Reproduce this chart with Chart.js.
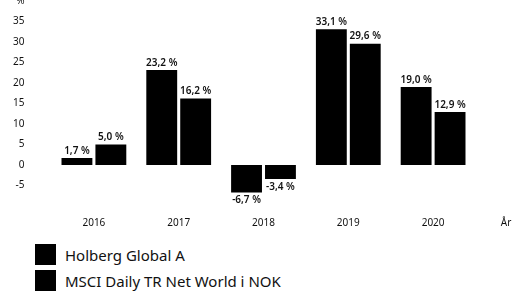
<!DOCTYPE html>
<html>
<head>
<meta charset="utf-8">
<script src="https://cdn.jsdelivr.net/npm/chart.js@4/dist/chart.umd.min.js"></script>
<style>
  body { margin: 0; background: #fff; width: 517px; height: 295px; overflow: hidden; position: relative; font-family: "Noto Sans", sans-serif; }
  #wrap { position: absolute; left: 0; top: -32px; width: 517px; height: 272px; }
  .legend { position: absolute; left: 35px; top: 244px; }
  .item { display: flex; align-items: center; height: 21px; margin-bottom: 5px; font-size: 15px; color: #111; }
  .box { width: 21px; height: 21px; background: #000; margin-right: 9px; }
</style>
</head>
<body>
<div id="wrap"><canvas id="myChart1" width="517" height="272"></canvas></div>
<div class="legend">
  <div class="item"><span class="box"></span>Holberg Global A</div>
  <div class="item"><span class="box"></span>MSCI Daily TR Net World i NOK</div>
</div>
<script>
const years = ["2016", "2017", "2018", "2019", "2020"];
const holberg = [1.7, 23.2, -6.7, 33.1, 19.0];
const msci = [5.0, 16.2, -3.4, 29.6, 12.9];
const seriesNames = ["Holberg Global A", "MSCI Daily TR Net World i NOK"];

const fmt = (v) => v.toFixed(1).replace(".", ",") + " %";

// value labels above / below each bar
const valueLabels = {
    id: "valueLabels",
    afterDatasetsDraw(chart) {
        const ctx = chart.ctx;
        ctx.save();
        ctx.font = "600 10px 'Noto Sans', sans-serif";
        ctx.fillStyle = "#111";
        ctx.textAlign = "center";
        chart.data.datasets.forEach((ds, i) => {
            chart.getDatasetMeta(i).data.forEach((bar, j) => {
                const v = ds.data[j];
                if (v >= 0) {
                    ctx.textBaseline = "bottom";
                    ctx.fillText(fmt(v), bar.x, bar.y - 2);
                } else {
                    ctx.textBaseline = "top";
                    ctx.fillText(fmt(v), bar.x, bar.y + 3);
                }
            });
        });
        ctx.restore();
    },
};

// "År" at the end of the x axis
const axisUnit = {
    id: "axisUnit",
    afterDraw(chart) {
        const ctx = chart.ctx;
        const x = chart.scales.x;
        ctx.save();
        ctx.font = "10px 'Noto Sans', sans-serif";
        ctx.fillStyle = "#111";
        ctx.textAlign = "center";
        ctx.textBaseline = "middle";
        ctx.fillText("År", 506, x.top + 11 + 6);
        ctx.restore();
    },
};

const ctx = document.getElementById("myChart1").getContext("2d");
new Chart(ctx, {
    type: "bar",
    data: {
        labels: years,
        datasets: [
            { label: seriesNames[0], data: holberg, backgroundColor: "#000" },
            { label: seriesNames[1], data: msci, backgroundColor: "#000" },
        ],
    },
    options: {
        responsive: false,
        animation: false,
        categoryPercentage: 0.8,
        barPercentage: 0.91,
        layout: { padding: { left: 0, right: 41.5, top: 0, bottom: 0 } },
        plugins: { legend: { display: false }, tooltip: { enabled: false } },
        scales: {
            x: {
                grid: { display: false, drawTicks: false },
                border: { display: false },
                ticks: { padding: 11, color: "#111", font: { size: 10, family: "'Noto Sans', sans-serif" } },
            },
            y: {
                min: -10,
                max: 40,
                grid: { display: false, drawTicks: false },
                border: { display: false },
                afterFit(scale) { scale.width = 51.5; },
                ticks: {
                    stepSize: 5,
                    padding: 27,
                    color: "#111",
                    font: { size: 10, family: "'Noto Sans', sans-serif" },
                    callback: (v) => (v === 40 ? "%" : v === -10 ? "" : v),
                },
            },
        },
    },
    plugins: [valueLabels, axisUnit],
});
</script>
</body>
</html>
